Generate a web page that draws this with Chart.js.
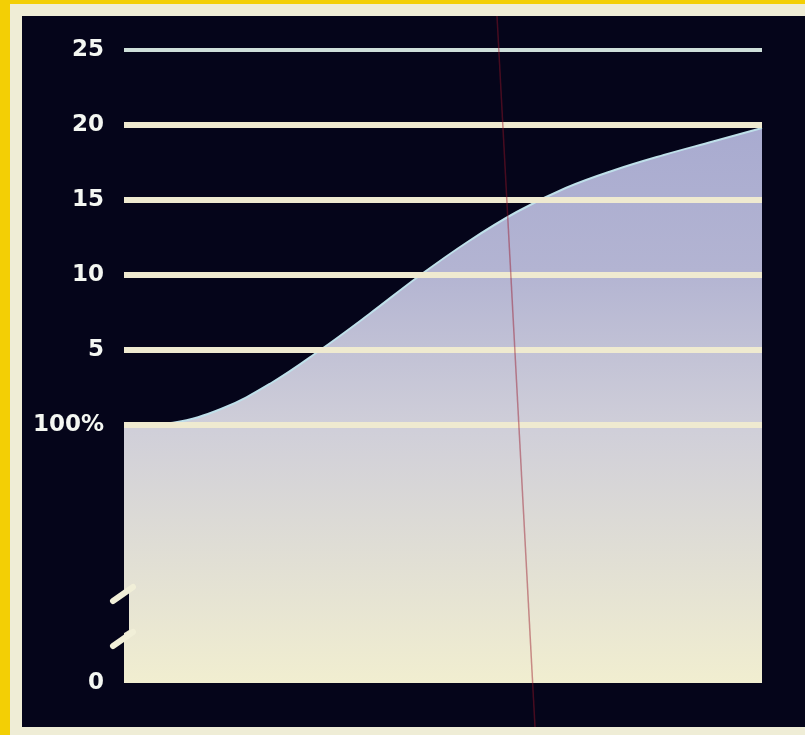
<!DOCTYPE html>
<html>
<head>
<meta charset="utf-8">
<script src="https://cdn.jsdelivr.net/npm/chart.js@4/dist/chart.umd.min.js"></script>
<style>
  html, body { margin: 0; padding: 0; }
  body { width: 805px; height: 735px; background: #f3cf05; position: relative; overflow: hidden; }
  #frame { position: absolute; left: 10px; top: 4px; width: 800px; height: 731px; background: #efedd6; }
  #panel { position: absolute; left: 22px; top: 16px; width: 783px; height: 711px; background: #05051a; }
  #panel canvas { display: block; }
  #scratch { position: absolute; left: 0; top: 0; pointer-events: none; }
</style>
</head>
<body>
<div id="frame"></div>
<div id="panel"><canvas id="c" width="783" height="711"></canvas></div>
<svg id="scratch" width="805" height="735"><line x1="497" y1="16" x2="535" y2="727" stroke="#9a1628" stroke-width="1.5" opacity="0.45"/></svg>
<script>
// ---- data ----
const steps = ['0','1','2','3','4','5','6','7','8','9','10','11','12','13'];
const growthValues = [0, 0.15, 1.1, 2.8, 5.0, 7.4, 9.9, 12.2, 14.2, 15.8, 17.0, 18.0, 18.9, 19.8];
const yTickValues = [-17.2, 0, 5, 10, 15, 20, 25];
const yTickLabels = ['0', '100%', '5', '10', '15', '20', '25'];

const yMin = yTickValues[0];
const yMax = yTickValues[yTickValues.length - 1];

const breakMarks = {
  id: 'breakMarks',
  afterDatasetsDraw(chart) {
    const ctx = chart.ctx;
    const ca = chart.chartArea;
    const x0 = ca.left - 11, x1 = ca.left + 9;
    const yA = ca.bottom - 90, yB = ca.bottom - 45;
    ctx.save();
    ctx.fillStyle = '#05051a';
    ctx.beginPath();
    ctx.moveTo(x0, yA + 8);
    ctx.lineTo(x1 - 4, yA - 2);
    ctx.lineTo(x1 - 4, yB - 8);
    ctx.lineTo(x0, yB + 2);
    ctx.closePath();
    ctx.fill();
    ctx.strokeStyle = '#f1efd8';
    ctx.lineWidth = 6;
    ctx.lineCap = 'round';
    [yA, yB].forEach(y => {
      ctx.beginPath();
      ctx.moveTo(x0, y + 8);
      ctx.lineTo(x1, y - 6);
      ctx.stroke();
    });
    ctx.restore();
  }
};

new Chart(document.getElementById('c'), {
  type: 'line',
  data: {
    labels: steps,
    datasets: [{
      data: growthValues,
      fill: 'start',
      borderColor: '#bfe0ea',
      borderWidth: 2,
      pointRadius: 0,
      tension: 0.4,
      backgroundColor: (ctx) => {
        const ca = ctx.chart.chartArea;
        if (!ca) return '#c8c8d8';
        const g = ctx.chart.ctx.createLinearGradient(0, ca.top, 0, ca.bottom);
        g.addColorStop(0, '#a3a6cf');
        g.addColorStop(0.35, '#b3b4d2');
        g.addColorStop(0.6, '#d0cfd9');
        g.addColorStop(1, '#f1eed0');
        return g;
      }
    }]
  },
  options: {
    responsive: false,
    animation: false,
    events: [],
    layout: { padding: { left: 2, right: 43, top: 34, bottom: 44 } },
    plugins: { legend: { display: false }, tooltip: { enabled: false } },
    scales: {
      x: {
        display: false,
        offset: false
      },
      y: {
        min: yMin,
        max: yMax,
        afterFit: (s) => { s.width = 100; },
        afterBuildTicks: (s) => { s.ticks = yTickValues.map(v => ({ value: v })); },
        border: { display: false },
        grid: {
          z: 1,
          drawTicks: false,
          lineWidth: (c) => (c.tick && c.tick.value === yMax) ? 4 : 6,
          color: (c) => {
            if (!c.tick || c.tick.value === yMin) return 'rgba(0,0,0,0)';
            if (c.tick.value === yMax) return '#cfe0da';
            return '#efead0';
          }
        },
        ticks: {
          padding: 20,
          color: '#f4f7f2',
          font: { family: 'DejaVu Sans', weight: 'bold', size: 23 },
          callback: (v) => {
            const i = yTickValues.indexOf(v);
            return i >= 0 ? yTickLabels[i] : '';
          }
        }
      }
    }
  },
  plugins: [breakMarks]
});
</script>
</body>
</html>
